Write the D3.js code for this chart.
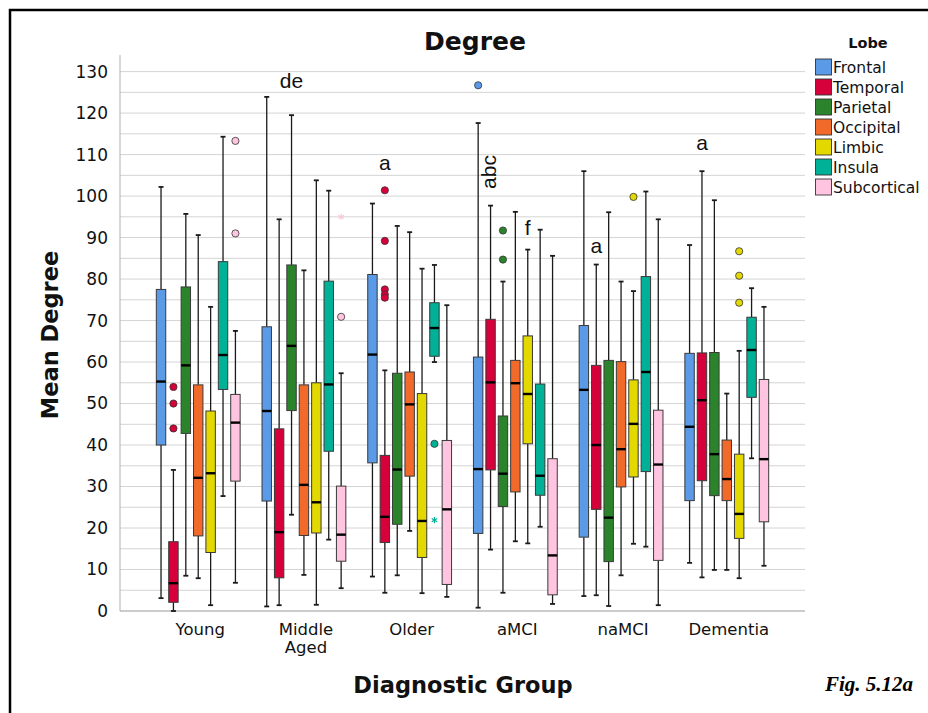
<!DOCTYPE html>
<html>
<head>
<meta charset="utf-8">
<script src="https://cdn.jsdelivr.net/npm/d3@7"></script>
<style>
  html, body { margin: 0; padding: 0; background: #fff; }
  svg { display: block; }
</style>
</head>
<body>
<svg id="chart" width="928" height="713"></svg>
<script>
// Diagnostic groups and brain lobes
const groups = ["Young", "Middle Aged", "Older", "aMCI", "naMCI", "Dementia"];
const lobes = ["Frontal", "Temporal", "Parietal", "Occipital", "Limbic", "Insula", "Subcortical"];
const lobeColors = ["#5a9ae6", "#d6003a", "#2b842b", "#f26a2a", "#e3d800", "#00b197", "#ffc4e0"];
const yTicks = [0, 10, 20, 30, 40, 50, 60, 70, 80, 90, 100, 110, 120, 130];

// Box-plot statistics, one row per group, one column per lobe
const whiskerLow = [
  [3.1, 0.0, 8.5, 7.9, 1.4, 27.7, 6.8],
  [1.1, 1.4, 23.2, 8.7, 1.5, 17.2, 5.5],
  [8.3, 4.4, 8.6, 19.3, 4.3, 60.0, 3.4],
  [0.8, 14.8, 4.4, 16.8, 16.3, 20.3, 1.7],
  [3.6, 3.8, 1.2, 8.6, 16.2, 15.5, 1.4],
  [11.6, 8.1, 9.9, 9.9, 7.9, 36.8, 10.9]
];
const q1 = [
  [40.0, 2.1, 42.8, 18.1, 14.1, 53.4, 31.3],
  [26.5, 8.0, 48.3, 18.2, 18.8, 38.5, 12.0],
  [35.7, 16.5, 20.9, 32.5, 12.9, 61.4, 6.4],
  [18.7, 34.0, 25.2, 28.7, 40.3, 27.9, 3.9],
  [17.8, 24.5, 11.9, 29.9, 32.3, 33.6, 12.2],
  [26.6, 31.4, 27.8, 26.6, 17.5, 51.5, 21.5]
];
const median = [
  [55.3, 6.7, 59.2, 32.1, 33.2, 61.7, 45.4],
  [48.2, 19.0, 63.9, 30.4, 26.2, 54.6, 18.4],
  [61.8, 22.7, 34.1, 49.8, 21.7, 68.2, 24.5],
  [34.2, 55.1, 33.1, 54.9, 52.3, 32.6, 13.4],
  [53.3, 40.0, 22.5, 39.0, 45.1, 57.6, 35.3],
  [44.4, 50.8, 37.8, 31.8, 23.4, 62.9, 36.6]
];
const q3 = [
  [77.5, 16.7, 78.1, 54.5, 48.2, 84.2, 52.2],
  [68.5, 43.9, 83.4, 54.5, 55.0, 79.5, 30.1],
  [81.1, 37.5, 57.3, 57.6, 52.4, 74.3, 41.1],
  [61.2, 70.3, 47.0, 60.4, 66.3, 54.7, 36.7],
  [68.8, 59.2, 60.4, 60.1, 55.7, 80.6, 48.4],
  [62.1, 62.2, 62.3, 41.2, 37.8, 70.8, 55.8]
];
const whiskerHigh = [
  [102.2, 34.0, 95.7, 90.6, 73.3, 114.3, 67.5],
  [123.9, 94.4, 119.5, 82.1, 103.8, 101.3, 57.3],
  [98.2, 58.0, 92.8, 91.3, 82.5, 83.4, 73.7],
  [117.6, 97.7, 79.4, 96.2, 87.1, 91.9, 85.6],
  [106.0, 83.5, 96.1, 79.4, 77.1, 101.1, 94.4],
  [88.2, 106.0, 99.0, 52.4, 62.7, 77.8, 73.3]
];

// Outliers: [group, lobe, value, kind] — "circle" = outlier, "star" = extreme
const outliers = [
  ["Young", "Temporal", 54.0, "circle"],
  ["Young", "Temporal", 50.0, "circle"],
  ["Young", "Temporal", 44.0, "circle"],
  ["Young", "Subcortical", 113.3, "circle"],
  ["Young", "Subcortical", 91.0, "circle"],
  ["Middle Aged", "Subcortical", 70.9, "circle"],
  ["Middle Aged", "Subcortical", 95.0, "star"],
  ["Older", "Temporal", 101.4, "circle"],
  ["Older", "Temporal", 89.2, "circle"],
  ["Older", "Temporal", 77.5, "circle"],
  ["Older", "Temporal", 76.3, "circle"],
  ["Older", "Temporal", 75.5, "circle"],
  ["Older", "Insula", 40.3, "circle"],
  ["Older", "Insula", 21.9, "star"],
  ["aMCI", "Frontal", 126.7, "circle"],
  ["aMCI", "Parietal", 91.7, "circle"],
  ["aMCI", "Parietal", 84.7, "circle"],
  ["naMCI", "Limbic", 99.8, "circle"],
  ["Dementia", "Limbic", 86.7, "circle"],
  ["Dementia", "Limbic", 80.8, "circle"],
  ["Dementia", "Limbic", 74.3, "circle"]
];

// Significance letters: [group, lobe, text, level in degree units, vertical?]
const annotations = [
  ["Middle Aged", "Parietal", "de", 126.0, false],
  ["Older", "Temporal", "a", 106.3, false],
  ["aMCI", "Temporal", "abc", 105.8, true],
  ["aMCI", "Limbic", "f", 90.6, false],
  ["naMCI", "Temporal", "a", 86.3, false],
  ["Dementia", "Temporal", "a", 111.0, false]
];

const svg = d3.select("#chart");
const plot = { left: 120, right: 805, top: 55, bottom: 611 };

// Outer frame
svg.append("rect")
  .attr("x", 10).attr("y", 10).attr("width", 940).attr("height", 720)
  .attr("fill", "none").attr("stroke", "#000").attr("stroke-width", 2.5);

const y = d3.scaleLinear().domain([0, 134]).range([plot.bottom, plot.top]);
const x = d3.scaleBand().domain(groups).range([plot.left, plot.right])
  .paddingInner(0).paddingOuter(0.24);
const half = 43.4;
const xl = d3.scaleBand().domain(lobes).range([-half, half])
  .paddingInner(0.24).paddingOuter(0.12);
const color = d3.scaleOrdinal().domain(lobes).range(lobeColors);
const cx = (g, l) => x(g) + x.bandwidth() / 2 + xl(l) + xl.bandwidth() / 2;

// Grid lines every 5 units
const gridVals = d3.range(5, 135, 5);
svg.append("g").selectAll("line").data(gridVals).join("line")
  .attr("x1", plot.left).attr("x2", plot.right)
  .attr("y1", d => y(d)).attr("y2", d => y(d))
  .attr("stroke", "#d4d4d4").attr("stroke-width", 1);

// Axes lines
svg.append("line").attr("x1", plot.left).attr("x2", plot.left)
  .attr("y1", plot.top).attr("y2", plot.bottom)
  .attr("stroke", "#b0b0b0").attr("stroke-width", 1);
svg.append("line").attr("x1", plot.left).attr("x2", plot.right)
  .attr("y1", plot.bottom).attr("y2", plot.bottom)
  .attr("stroke", "#9a9a9a").attr("stroke-width", 1.2);

// Y axis labels
const yAxis = d3.axisLeft(y).tickValues(yTicks).tickSize(0).tickPadding(12);
const yg = svg.append("g").attr("transform", `translate(${plot.left},0)`).call(yAxis);
yg.select(".domain").remove();
yg.selectAll("text")
  .attr("font-family", "DejaVu Sans").attr("font-size", 17).attr("fill", "#111");

// X axis labels (multi-line where needed)
const xg = svg.append("g");
groups.forEach(g => {
  const words = g.split(" ");
  const t = xg.append("text")
    .attr("x", x(g) + x.bandwidth() / 2 + 2)
    .attr("y", 635)
    .attr("text-anchor", "middle")
    .attr("font-family", "DejaVu Sans").attr("font-size", 16.5).attr("fill", "#111");
  words.forEach((w, i) => {
    t.append("tspan").attr("x", x(g) + x.bandwidth() / 2 + 2)
      .attr("dy", i === 0 ? 0 : 18).text(w);
  });
});

// Box plots
const boxes = [];
groups.forEach((g, gi) => lobes.forEach((l, li) => boxes.push({
  g, l, lo: whiskerLow[gi][li], q1: q1[gi][li], med: median[gi][li],
  q3: q3[gi][li], hi: whiskerHigh[gi][li]
})));

const bw = xl.bandwidth();
const capW = 5;
const bg = svg.append("g").selectAll("g").data(boxes).join("g");
bg.append("line")
  .attr("x1", d => cx(d.g, d.l)).attr("x2", d => cx(d.g, d.l))
  .attr("y1", d => y(d.hi)).attr("y2", d => y(d.q3))
  .attr("stroke", "#1a1a1a").attr("stroke-width", 1.3);
bg.append("line")
  .attr("x1", d => cx(d.g, d.l)).attr("x2", d => cx(d.g, d.l))
  .attr("y1", d => y(d.q1)).attr("y2", d => y(d.lo))
  .attr("stroke", "#1a1a1a").attr("stroke-width", 1.3);
bg.append("line")
  .attr("x1", d => cx(d.g, d.l) - capW / 2).attr("x2", d => cx(d.g, d.l) + capW / 2)
  .attr("y1", d => y(d.hi)).attr("y2", d => y(d.hi))
  .attr("stroke", "#1a1a1a").attr("stroke-width", 1.8);
bg.append("line")
  .attr("x1", d => cx(d.g, d.l) - capW / 2).attr("x2", d => cx(d.g, d.l) + capW / 2)
  .attr("y1", d => y(d.lo)).attr("y2", d => y(d.lo))
  .attr("stroke", "#1a1a1a").attr("stroke-width", 1.8);
bg.append("rect")
  .attr("x", d => cx(d.g, d.l) - bw / 2).attr("width", bw)
  .attr("y", d => y(d.q3)).attr("height", d => y(d.q1) - y(d.q3))
  .attr("fill", d => color(d.l)).attr("stroke", "#3a3a3a").attr("stroke-width", 1);
bg.append("line")
  .attr("x1", d => cx(d.g, d.l) - bw / 2).attr("x2", d => cx(d.g, d.l) + bw / 2)
  .attr("y1", d => y(d.med)).attr("y2", d => y(d.med))
  .attr("stroke", "#000").attr("stroke-width", 2.4);

// Outliers
const og = svg.append("g");
outliers.forEach(([g, l, v, kind]) => {
  if (kind === "circle") {
    og.append("circle").attr("cx", cx(g, l)).attr("cy", y(v)).attr("r", 3.6)
      .attr("fill", color(l)).attr("stroke", "#333").attr("stroke-width", 0.8);
  } else {
    og.append("path")
      .attr("d", d3.symbol(d3.symbolAsterisk, 28)())
      .attr("transform", `translate(${cx(g, l)},${y(v)})`)
      .attr("fill", "none").attr("stroke", color(l)).attr("stroke-width", 1.2);
  }
});

// Significance letters
const ag = svg.append("g");
annotations.forEach(([g, l, txt, lvl, vertical]) => {
  const t = ag.append("text")
    .attr("font-family", "Liberation Sans").attr("font-size", 21).attr("fill", "#111")
    .attr("text-anchor", "middle").text(txt);
  if (vertical) {
    t.attr("transform", `translate(${cx(g, l) - 2},${y(lvl)}) rotate(-90)`)
      .attr("dy", "0.35em");
  } else {
    t.attr("x", cx(g, l)).attr("y", y(lvl));
  }
});

// Titles
svg.append("text").attr("x", 475).attr("y", 50).attr("text-anchor", "middle")
  .attr("font-family", "DejaVu Sans").attr("font-weight", "bold").attr("font-size", 25)
  .attr("fill", "#111").text("Degree");
svg.append("text")
  .attr("transform", `translate(58,${(plot.top + plot.bottom) / 2 + 2}) rotate(-90)`)
  .attr("text-anchor", "middle")
  .attr("font-family", "DejaVu Sans").attr("font-weight", "bold").attr("font-size", 22.5)
  .attr("fill", "#111").text("Mean Degree");
svg.append("text").attr("x", 463).attr("y", 693).attr("text-anchor", "middle")
  .attr("font-family", "DejaVu Sans").attr("font-weight", "bold").attr("font-size", 22.5)
  .attr("fill", "#111").text("Diagnostic Group");
svg.append("text").attr("x", 913).attr("y", 691).attr("text-anchor", "end")
  .attr("font-family", "Liberation Serif").attr("font-weight", "bold")
  .attr("font-style", "italic").attr("font-size", 21)
  .attr("fill", "#000").text("Fig. 5.12a");

// Legend
const lg = svg.append("g");
lg.append("text").attr("x", 868).attr("y", 48).attr("text-anchor", "middle")
  .attr("font-family", "DejaVu Sans").attr("font-weight", "bold").attr("font-size", 14.5)
  .attr("fill", "#111").text("Lobe");
lobes.forEach((l, i) => {
  const cy = 67 + i * 20;
  lg.append("rect").attr("x", 815.5).attr("y", cy - 8).attr("width", 16).attr("height", 16)
    .attr("fill", color(l)).attr("stroke", "#333").attr("stroke-width", 0.9);
  lg.append("text").attr("x", 833).attr("y", cy + 5.5)
    .attr("font-family", "DejaVu Sans").attr("font-size", 15.5).attr("fill", "#111").text(l);
});
</script>
</body>
</html>
